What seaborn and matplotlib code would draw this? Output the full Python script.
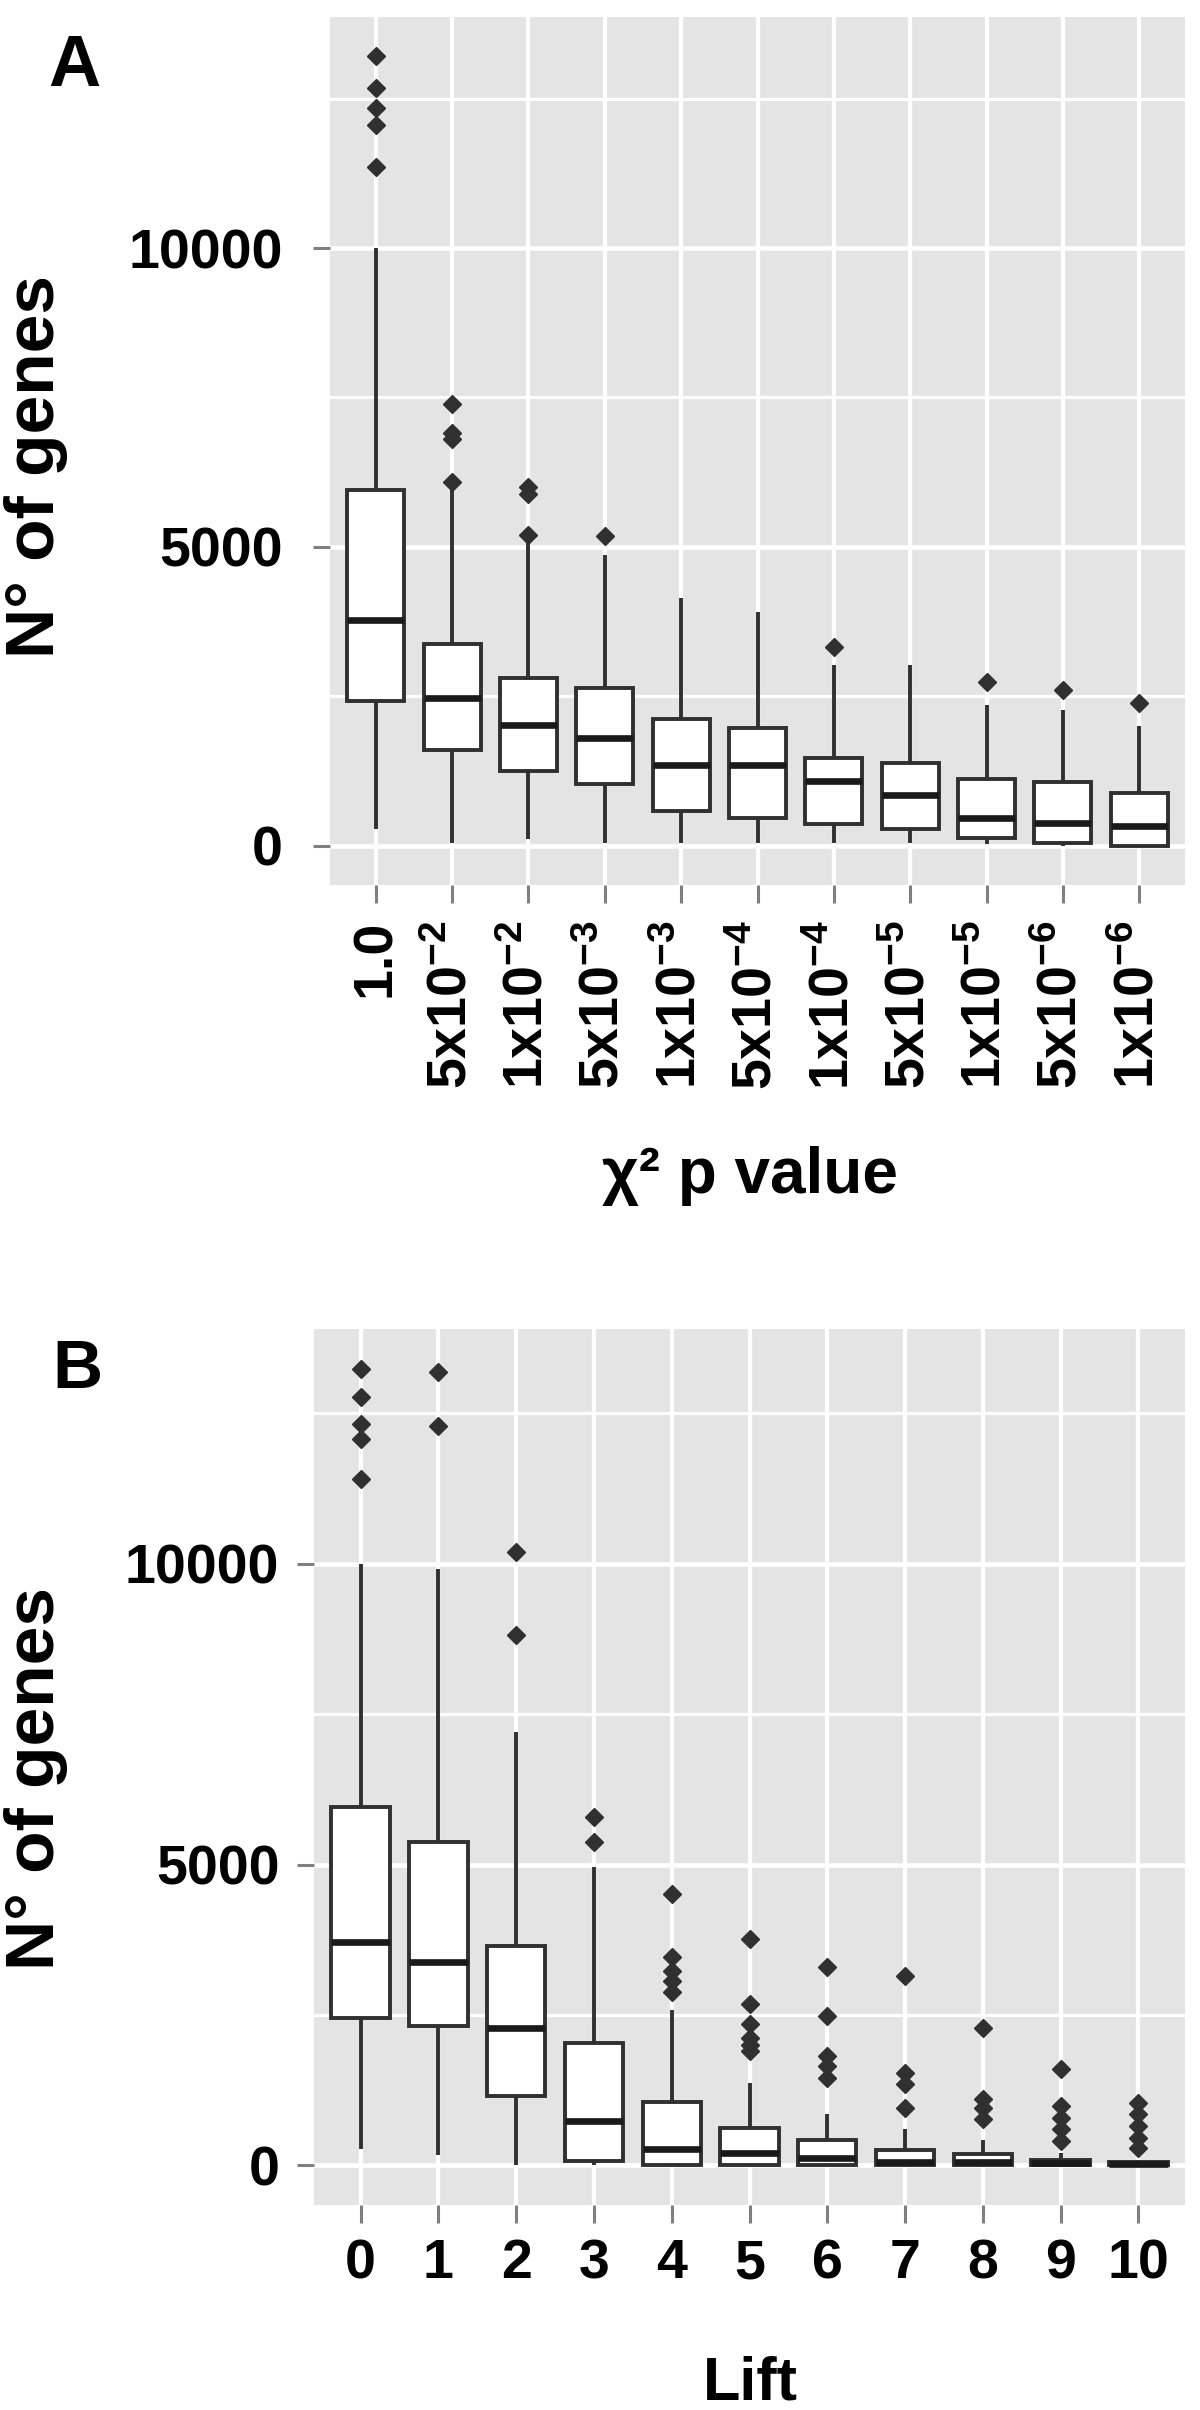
import numpy as np
import pandas as pd
import matplotlib
matplotlib.use("Agg")
import matplotlib.pyplot as plt
from matplotlib.ticker import FixedLocator
import seaborn as sns

# ---------------- data ----------------
# Panel A : chi-square p value thresholds
a_cats = ["1.0", "5x10-2", "1x10-2", "5x10-3", "1x10-3", "5x10-4",
          "1x10-4", "5x10-5", "1x10-5", "5x10-6", "1x10-6"]
a_ticklabels = ["1.0", r"$\mathrm{5x10^{-2}}$", r"$\mathrm{1x10^{-2}}$",
                r"$\mathrm{5x10^{-3}}$", r"$\mathrm{1x10^{-3}}$",
                r"$\mathrm{5x10^{-4}}$", r"$\mathrm{1x10^{-4}}$",
                r"$\mathrm{5x10^{-5}}$", r"$\mathrm{1x10^{-5}}$",
                r"$\mathrm{5x10^{-6}}$", r"$\mathrm{1x10^{-6}}$"]
a_lo = [272, 50, 106, 50, 50, 50, 50, 50, 30, 0, 0]
a_q1 = [2422, 1606, 1244, 1022, 578, 460, 356, 280, 133, 50, 0]
a_med = [3783, 2467, 2022, 1800, 1356, 1345, 1078, 840, 467, 385, 328]
a_q3 = [5950, 3367, 2800, 2633, 2120, 1975, 1467, 1390, 1106, 1060, 883]
a_hi = [10000, 6000, 5100, 4870, 4140, 3915, 3022, 3030, 2360, 2275, 1994]
a_out = [[11358, 12060, 12350, 12678, 13208],
         [6080, 6800, 6900, 7390],
         [5190, 5880, 6000],
         [5189], [], [], [3330], [], [2744], [2600], [2383]]

# Panel B : lift thresholds
b_cats = ["0", "1", "2", "3", "4", "5", "6", "7", "8", "9", "10"]
b_lo = [261, 177, 0, 0, 0, 0, 0, 0, 0, 0, 0]
b_q1 = [2455, 2316, 1150, 66, 10, 0, 0, 0, 0, 0, 0]
b_med = [3705, 3372, 2289, 733, 261, 205, 122, 60, 50, 30, 20]
b_q3 = [5955, 5372, 3650, 2039, 1050, 622, 427, 250, 180, 94, 50]
b_hi = [10000, 9907, 7200, 4955, 2580, 1372, 844, 600, 420, 205, 94]
b_out = [[11407, 12077, 12333, 12778, 13243],
         [12287, 13183],
         [8823, 10200],
         [5372, 5789],
         [2872, 3066, 3233, 3455, 4511],
         [1900, 2000, 2122, 2344, 2677, 3761],
         [1455, 1650, 1816, 2483, 3289],
         [955, 1350, 1530, 3150],
         [760, 950, 1100, 2289],
         [400, 594, 789, 983, 1594],
         [289, 455, 650, 844, 1039]]


def build_frame(cats, lo, q1, med, q3, hi, outs):
    """Long-form table whose quartiles / whiskers / outliers reproduce the summaries."""
    rows = []
    for c, l, a, m, b, h, o in zip(cats, lo, q1, med, q3, hi, outs):
        vals = [l] + [a] * 200 + [m] * 50 + [b] * 200 + [h] + list(o)
        rows += [(c, v) for v in vals]
    return pd.DataFrame(rows, columns=["cat", "val"])


dfA = build_frame(a_cats, a_lo, a_q1, a_med, a_q3, a_hi, a_out)
dfB = build_frame(b_cats, b_lo, b_q1, b_med, b_q3, b_hi, b_out)

# ---------------- style ----------------
FONT = "Liberation Sans"
plt.rcParams["font.family"] = [FONT, "DejaVu Sans"]
plt.rcParams["font.weight"] = "bold"
plt.rcParams["mathtext.fontset"] = "custom"
plt.rcParams["mathtext.rm"] = "Liberation Sans:bold"
plt.rcParams["mathtext.bf"] = "Liberation Sans:bold"
plt.rcParams["mathtext.it"] = "Liberation Sans:bold"
plt.rcParams["mathtext.sf"] = "Liberation Sans:bold"

W, H = 1200, 2410
fig = plt.figure(figsize=(W / 100, H / 100), dpi=100)
fig.patch.set_facecolor("white")


def px_axes(left, top, right, bottom):
    return fig.add_axes([left / W, 1 - bottom / H, (right - left) / W, (bottom - top) / H])


axA = px_axes(330, 17, 1185, 885)
axB = px_axes(314, 1329, 1185, 2205)

BG = "#E4E4E4"
EDGE = "#303030"


def draw(ax, df, cats, allvals, ticklabels, ypad, xpad, rot):
    ax.set_facecolor(BG)
    ax.set_axisbelow(True)
    sns.boxplot(data=df, x="cat", y="val", order=cats, ax=ax,
                color="white", linecolor=EDGE, linewidth=2.8, width=0.75,
                showcaps=False, fliersize=9.5,
                flierprops=dict(marker="D", markerfacecolor=EDGE,
                                markeredgecolor=EDGE),
                medianprops=dict(linewidth=4.8, color="#1a1a1a"),
                boxprops=dict(facecolor="white"))
    vmin, vmax = min(allvals), max(allvals)
    span = vmax - vmin
    ax.set_ylim(vmin - 0.05 * span, vmax + 0.05 * span)
    ax.set_xlim(-0.6, len(cats) - 1 + 0.6)
    ax.set_xlabel("")
    ax.set_ylabel("")
    ax.yaxis.set_major_locator(FixedLocator([0, 5000, 10000]))
    ax.yaxis.set_minor_locator(FixedLocator([2500, 7500, 12500]))
    ax.set_yticklabels(["0", "5000", "10000"])
    ax.set_xticks(range(len(cats)))
    ax.set_xticklabels(ticklabels, rotation=rot,
                       va="top", ha="center")
    ax.grid(which="major", axis="y", color="white", linewidth=3.3)
    ax.grid(which="minor", axis="y", color="white", linewidth=2.3)
    ax.grid(which="major", axis="x", color="white", linewidth=3.0)
    for s in ax.spines.values():
        s.set_visible(False)
    ax.tick_params(axis="y", which="major", length=12, width=2.2,
                   color="#808080", pad=ypad, labelsize=40, labelcolor="black")
    ax.tick_params(axis="y", which="minor", length=0)
    ax.tick_params(axis="x", which="major", length=13, width=2.2,
                   color="#808080", pad=xpad, labelsize=40, labelcolor="black")
    for t in ax.get_xticklabels() + ax.get_yticklabels():
        t.set_fontweight("bold")


allA = a_lo + a_hi + [v for o in a_out for v in o]
allB = b_lo + b_hi + [v for o in b_out for v in o]
draw(axA, dfA, a_cats, allA, a_ticklabels, ypad=22, xpad=12, rot=90)
draw(axB, dfB, b_cats, allB, b_cats, ypad=13, xpad=11, rot=0)

# axis titles and panel letters
fig.text(36 / W, 1 - 467 / H, "N° of genes", rotation=90, ha="center", va="center",
         fontsize=50, fontweight="bold")
fig.text(36 / W, 1 - 1778 / H, "N° of genes", rotation=90, ha="center", va="center",
         fontsize=50, fontweight="bold")
fig.text(750 / W, 1 - 1206 / H, "χ² p value", ha="center", va="bottom",
         fontsize=46, fontweight="bold")
fig.text(750 / W, 1 - 2412 / H, "Lift", ha="center", va="bottom",
         fontsize=44, fontweight="bold")
fig.text(48 / W, 1 - 33 / H, "A", ha="left", va="top", fontsize=52, fontweight="bold")
fig.text(52 / W, 1 - 1338 / H, "B", ha="left", va="top", fontsize=50, fontweight="bold")

fig.savefig("out.png", dpi=100, facecolor="white")
